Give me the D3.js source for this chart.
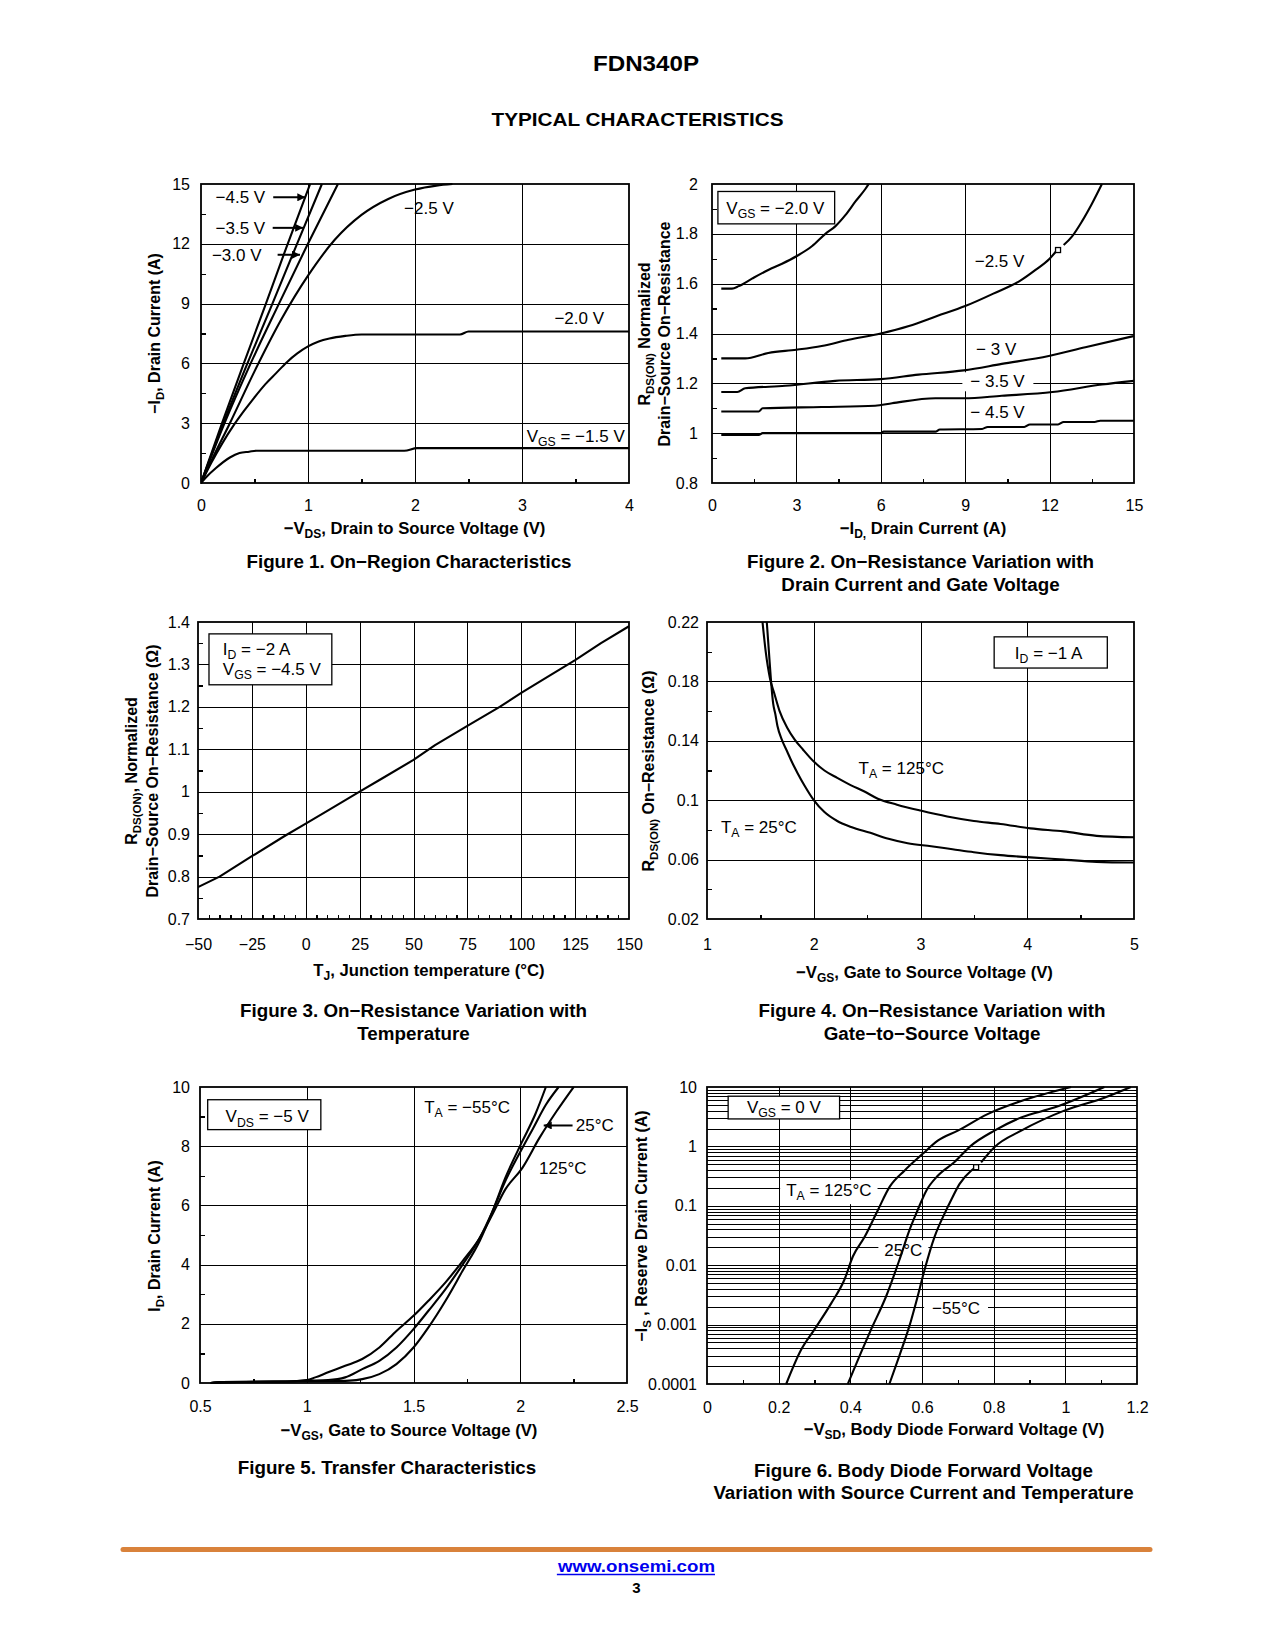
<!DOCTYPE html>
<html><head><meta charset="utf-8">
<script src="https://cdn.jsdelivr.net/npm/d3@7"></script>
<style>
html,body{margin:0;padding:0;background:#fff;}
svg{display:block;}
</style></head><body>
<svg id="page" width="1275" height="1650"></svg>
<script>
// ---------------- DATA ----------------
// Figure 1: -ID vs -VDS for several VGS
const fig1XTicks = [0,1,2,3,4];
const fig1YTicks = [0,3,6,9,12,15];
const fig1XMinor = [0.5,1.5,2.5,3.5];
const fig1YMinor = [1.5,4.5,7.5,10.5,13.5];
const fig1Vgs45 = [[0,0],[0.2,3.05],[0.4,6.0],[0.6,8.9],[0.8,11.85],[1.02,15]];
const fig1Vgs35 = [[0,0],[0.21,3],[0.43,5.95],[0.66,8.9],[0.89,11.9],[1.13,15]];
const fig1Vgs30 = [[0,0],[0.22,3],[0.46,5.95],[0.72,8.9],[0.99,11.9],[1.28,15]];
const fig1Vgs25 = [[0,0],[0.1,1.15],[0.27,3],[0.5,5.6],[0.75,8.2],[1.0,10.4],[1.25,12.2],[1.5,13.45],[1.75,14.25],[2.0,14.72],[2.2,14.92],[2.35,15]];
const fig1Vgs20 = [[0,0],[0.1,1.05],[0.2,2.0],[0.3,2.85],[0.4,3.6],[0.5,4.3],[0.6,4.95],[0.7,5.5],[0.8,6.05],[0.9,6.5],[1.0,6.85],[1.1,7.1],[1.2,7.25],[1.35,7.38],[1.5,7.45],[2.42,7.45],[2.5,7.6],[4,7.6]];
const fig1Vgs15 = [[0,0],[0.05,0.3],[0.14,0.75],[0.27,1.28],[0.36,1.5],[0.45,1.57],[0.52,1.62],[1.9,1.62],[2.02,1.75],[4,1.75]];

// Figure 2: normalized RDS(ON) vs -ID
const fig2XTicks = [0,3,6,9,12,15];
const fig2YTicks = [0.8,1,1.2,1.4,1.6,1.8,2];
const fig2XMinor = [1.5,4.5,7.5,10.5,13.5];
const fig2YMinor = [0.9,1.1,1.3,1.5,1.7,1.9];
const fig2Vgs20 = [[0.33,1.58],[0.71,1.58],[0.95,1.59],[1.42,1.62],[2.0,1.655],[2.49,1.68],[3.0,1.71],[3.55,1.75],[4.03,1.8],[4.38,1.83],[4.74,1.875],[5.1,1.93],[5.45,1.98],[5.57,2.0]];
const fig2Vgs25 = [[0.33,1.3],[1.18,1.3],[2.0,1.322],[3.0,1.335],[3.9,1.35],[4.86,1.375],[6.0,1.40],[7.0,1.43],[8.0,1.47],[9.0,1.51],[10.0,1.56],[11.0,1.615],[11.5,1.655],[12.0,1.70],[12.27,1.735],null,[12.5,1.755],[12.8,1.79],[13.15,1.85],[13.5,1.92],[13.86,2.0]];
const fig2Vgs30 = [[0.33,1.165],[0.9,1.165],[1.18,1.18],[2.6,1.19],[4.38,1.21],[6.0,1.217],[7.34,1.235],[8.95,1.252],[10.3,1.278],[11.97,1.31],[13.27,1.345],[15,1.39]];
const fig2Vgs35 = [[0.33,1.087],[1.66,1.087],[1.8,1.1],[3.9,1.105],[5.8,1.11],[6.4,1.12],[7.94,1.14],[8.95,1.14],[10.3,1.15],[12.1,1.165],[13.86,1.195],[15,1.21]];
const fig2Vgs45 = [[0.33,0.993],[1.66,0.993],[1.8,1.0],[6.0,1.0],[6.1,1.006],[7.94,1.006],[8.1,1.015],[9.6,1.017],[9.8,1.025],[11.1,1.025],[11.3,1.035],[12.3,1.035],[12.5,1.045],[13.6,1.045],[13.8,1.05],[15,1.05]];
const fig2Marker = [[12.3,1.735]];

// Figure 3: normalized RDS(ON) vs junction temperature
const fig3XTicks = [-50,-25,0,25,50,75,100,125,150];
const fig3YTicks = [0.7,0.8,0.9,1,1.1,1.2,1.3,1.4];
const fig3Temp = [-50,-40,-25,-10,0,10,25,35,50,60,75,90,100,112,125,137,150];
const fig3Rds  = [0.775,0.80,0.848,0.895,0.925,0.955,1.0,1.03,1.075,1.11,1.155,1.2,1.233,1.27,1.31,1.35,1.39];

// Figure 4: RDS(ON) vs -VGS
const fig4XTicks = [1,2,3,4,5];
const fig4YTicks = [0.02,0.06,0.1,0.14,0.18,0.22];
const fig4XMinor = [1.5,2.5,3.5,4.5];
const fig4YMinor = [0.04,0.08,0.12,0.16,0.2];
const fig4T125 = [[1.52,0.22],[1.55,0.2],[1.59,0.182],[1.63,0.172],[1.68,0.16],[1.75,0.149],[1.82,0.141],[1.9,0.134],[2.0,0.126],[2.1,0.12],[2.22,0.115],[2.35,0.11],[2.47,0.106],[2.6,0.101],[2.78,0.097],[3.0,0.093],[3.25,0.089],[3.5,0.086],[3.75,0.084],[4.03,0.081],[4.34,0.079],[4.65,0.076],[5.0,0.075]];
const fig4T25  = [[1.56,0.22],[1.58,0.2],[1.6,0.18],[1.62,0.165],[1.64,0.158],[1.66,0.15],[1.7,0.141],[1.75,0.133],[1.8,0.125],[1.85,0.118],[1.92,0.109],[2.0,0.1],[2.1,0.092],[2.22,0.086],[2.35,0.082],[2.53,0.078],[2.7,0.074],[2.88,0.071],[3.1,0.069],[3.3,0.067],[3.5,0.065],[3.75,0.063],[4.03,0.0615],[4.34,0.06],[4.65,0.0585],[5.0,0.058]];

// Figure 5: transfer characteristics
const fig5XTicks = [0.5,1,1.5,2,2.5];
const fig5YTicks = [0,2,4,6,8,10];
const fig5XMinor = [0.75,1.25,1.75,2.25];
const fig5YMinor = [1,3,5,7,9];
const fig5T125 = [[0.55,0],[0.6,0.03],[0.9,0.05],[1.0,0.1],[1.04,0.19],[1.1,0.36],[1.18,0.58],[1.26,0.81],[1.34,1.2],[1.42,1.76],[1.5,2.27],[1.57,2.78],[1.65,3.4],[1.73,4.12],[1.81,4.9],[1.87,5.7],[1.93,6.54],[2.01,7.27],[2.09,8.28],[2.17,9.18],[2.25,10]];
const fig5T25  = [[0.55,0],[0.6,0.03],[0.9,0.05],[1.0,0.08],[1.1,0.1],[1.18,0.19],[1.26,0.47],[1.34,0.75],[1.42,1.2],[1.5,1.82],[1.57,2.44],[1.65,3.17],[1.73,4.0],[1.81,4.9],[1.87,5.8],[1.93,6.82],[2.01,7.94],[2.06,8.6],[2.12,9.4],[2.18,10]];
const fig5Tm55 = [[0.55,0],[0.6,0.02],[0.9,0.05],[1.1,0.06],[1.2,0.08],[1.26,0.13],[1.34,0.3],[1.42,0.64],[1.5,1.2],[1.57,1.88],[1.65,2.78],[1.73,3.79],[1.81,4.8],[1.87,5.8],[1.93,6.93],[2.01,8.17],[2.07,9.07],[2.12,10]];

// Figure 6: body diode forward voltage (log current)
const fig6XTicks = [0,0.2,0.4,0.6,0.8,1,1.2];
const fig6YTicks = [0.0001,0.001,0.01,0.1,1,10];
const fig6XMinor = [0.1,0.3,0.5,0.7,0.9,1.1];
const fig6T125 = [[0.221,0.0001],[0.263,0.00038],[0.3,0.00083],[0.347,0.0023],[0.384,0.0058],[0.407,0.014],[0.44,0.030],[0.477,0.085],[0.51,0.21],[0.551,0.39],[0.602,0.75],[0.644,1.25],[0.7,1.84],[0.783,3.5],[0.877,5.8],[1.016,10]];
const fig6T25  = [[0.393,0.0001],[0.43,0.00034],[0.458,0.00083],[0.5,0.003],[0.537,0.0123],[0.565,0.039],[0.588,0.085],[0.612,0.18],[0.644,0.32],[0.69,0.54],[0.737,1.03],[0.802,1.84],[0.877,3.08],[0.969,4.5],[1.109,10]];
const fig6Tm55 = [[0.509,0.0001],[0.537,0.0003],[0.565,0.00095],[0.588,0.003],[0.607,0.0083],[0.635,0.030],[0.663,0.074],[0.681,0.124],[0.705,0.234],[0.737,0.39],[0.751,0.447],null,[0.765,0.54],[0.802,0.97],[0.877,1.84],[0.997,4.0],[1.109,6.6],[1.183,10]];
const fig6Marker = [[0.751,0.447]];

// ---------------- DRAWING ----------------
const FONT = '"Liberation Sans", Arial, Helvetica, sans-serif';
const TICK = 16, ANN = 17, XTITLE = 16.7, YTITLE = 16, CAP = 18.8;
const svg = d3.select('#page');
svg.append('rect').attr('width',1275).attr('height',1650).attr('fill','#fff');
const defs = svg.append('defs');
defs.append('marker').attr('id','arrow').attr('viewBox','0 0 10 10')
  .attr('refX',10).attr('refY',5).attr('markerUnits','userSpaceOnUse')
  .attr('markerWidth',11).attr('markerHeight',8).attr('orient','auto')
  .append('path').attr('d','M0,0 L10,5 L0,10 Z').attr('fill','#000');

function rich(t, str, size) {
  const parts = str.split(/(_\{[^}]*\})/);
  let sub = false;
  parts.forEach(p => {
    if (!p) return;
    if (p.startsWith('_{')) {
      t.append('tspan').attr('font-size', size*0.72).attr('dy', size*0.25).text(p.slice(2,-1));
      sub = true;
    } else {
      const ts = t.append('tspan').text(p);
      if (sub) { ts.attr('dy', -size*0.25); sub = false; }
    }
  });
}
function addText(parent, cx, cy, str, o = {}) {
  const size = o.size || 15;
  const t = parent.append('text')
    .attr('font-size', size).attr('font-family', FONT)
    .attr('font-weight', o.bold ? 'bold' : 'normal')
    .attr('text-anchor', o.anchor || 'middle')
    .attr('fill', o.fill || '#000')
    .style('white-space', 'pre');
  if (o.rotate) t.attr('transform', `translate(${cx + 0.35*size},${cy}) rotate(-90)`);
  else t.attr('x', cx).attr('y', cy + 0.35*size);
  rich(t, str, size);
  if (o.textLength) t.attr('textLength', o.textLength).attr('lengthAdjust', 'spacingAndGlyphs');
  return t;
}
function bgText(parent, cx, cy, str, o, padX, padY) {
  const t = addText(parent, cx, cy, str, o);
  const bb = t.node().getBBox();
  parent.insert('rect', () => t.node())
    .attr('x', bb.x - padX).attr('y', bb.y - padY)
    .attr('width', bb.width + 2*padX).attr('height', bb.height + 2*padY)
    .attr('fill', '#fff');
  return t;
}

let clipN = 0;
function makeChart(c) {
  const x = (c.xLog ? d3.scaleLog() : d3.scaleLinear()).domain(c.xDomain).range([c.L, c.R]);
  const y = (c.yLog ? d3.scaleLog() : d3.scaleLinear()).domain(c.yDomain).range([c.B, c.T]);
  const W = c.R - c.L, H = c.B - c.T;
  const g = svg.append('g');
  const styleAxis = s => { s.select('.domain').remove(); s.attr('font-family', FONT).attr('font-size', TICK);
    s.selectAll('line').attr('stroke', '#000'); };
  // gridlines
  g.append('g').attr('transform', `translate(0,${c.B})`)
    .call(d3.axisBottom(x).tickValues(c.xGrid).tickSize(-H).tickFormat('')).call(styleAxis)
    .selectAll('line').attr('stroke-width', 1).attr('shape-rendering', 'crispEdges');
  g.append('g').attr('transform', `translate(${c.L},0)`)
    .call(d3.axisLeft(y).tickValues(c.yGrid).tickSize(-W).tickFormat('')).call(styleAxis)
    .selectAll('line').attr('stroke-width', 1).attr('shape-rendering', 'crispEdges');
  // minor ticks
  if (c.xMinor) g.append('g').attr('transform', `translate(0,${c.B})`)
    .call(d3.axisBottom(x).tickValues(c.xMinor).tickSize(-4.5).tickFormat('')).call(styleAxis)
    .selectAll('line').attr('stroke-width', 1.4).attr('shape-rendering', 'crispEdges');
  if (c.yMinor) g.append('g').attr('transform', `translate(${c.L},0)`)
    .call(d3.axisLeft(y).tickValues(c.yMinor).tickSize(-4.5).tickFormat('')).call(styleAxis)
    .selectAll('line').attr('stroke-width', 1.4).attr('shape-rendering', 'crispEdges');
  // tick labels
  g.append('g').attr('transform', `translate(0,${c.B})`)
    .call(d3.axisBottom(x).tickValues(c.xTicks).tickSize(0).tickPadding(c.xPad).tickFormat(c.xFmt || (d => String(d).replace('-', '\u2212'))))
    .call(styleAxis);
  g.append('g').attr('transform', `translate(${c.L},0)`)
    .call(d3.axisLeft(y).tickValues(c.yTicks).tickSize(0).tickPadding(c.yPad).tickFormat(c.yFmt || (d => String(d))))
    .call(styleAxis);
  // border
  g.append('rect').attr('x', c.L).attr('y', c.T).attr('width', W).attr('height', H)
    .attr('fill', 'none').attr('stroke', '#000').attr('stroke-width', 1.8);
  const id = 'clip' + (clipN++);
  defs.append('clipPath').attr('id', id).append('rect')
    .attr('x', c.L).attr('y', c.T - 1).attr('width', W + 1).attr('height', H + 2);
  return { x, y, g, clip: `url(#${id})`, c };
}
function drawCurve(ch, data, smooth = true) {
  const line = d3.line().defined(d => d !== null)
    .x(d => ch.x(d[0])).y(d => ch.y(d[1]))
    .curve(smooth ? d3.curveMonotoneX : d3.curveLinear);
  ch.g.append('path').datum(data).attr('d', line).attr('clip-path', ch.clip)
    .attr('fill', 'none').attr('stroke', '#000').attr('stroke-width', 2.1)
    .attr('stroke-linejoin', 'round');
}
function drawBox(ch, x0, y0, x1, y1) {
  const xa = ch.x(x0), xb = ch.x(x1), ya = ch.y(y0), yb = ch.y(y1);
  ch.g.append('rect').attr('x', Math.min(xa, xb)).attr('y', Math.min(ya, yb))
    .attr('width', Math.abs(xb - xa)).attr('height', Math.abs(yb - ya))
    .attr('fill', '#fff').attr('stroke', '#000').attr('stroke-width', 1.3);
}
function drawSquare(ch, pts) {
  ch.g.selectAll(null).data(pts).enter().append('rect')
    .attr('x', d => ch.x(d[0]) - 2.5).attr('y', d => ch.y(d[1]) - 2.5)
    .attr('width', 5).attr('height', 5).attr('fill', '#fff').attr('stroke', '#000').attr('stroke-width', 1.3);
}

// ----- Header -----
addText(svg, 646, 63, 'FDN340P', { size: 22, bold: true, textLength: 106 });
addText(svg, 637.5, 120, 'TYPICAL CHARACTERISTICS', { size: 18, bold: true, textLength: 292 });

// ----- Figure 1 -----
{
  const ch = makeChart({ L: 201, R: 629, T: 184, B: 483, xDomain: [0, 4], yDomain: [0, 15],
    xTicks: fig1XTicks, yTicks: fig1YTicks, xGrid: [1, 2, 3], yGrid: [3, 6, 9, 12],
    xMinor: fig1XMinor, yMinor: fig1YMinor, xPad: 17, yPad: 11 });
  [fig1Vgs45, fig1Vgs35, fig1Vgs30, fig1Vgs25, fig1Vgs20, fig1Vgs15].forEach(d => drawCurve(ch, d));
  const arrows = [['\u22124.5 V', 0.60, 14.33, 0.675, 0.975], ['\u22123.5 V', 0.60, 12.8, 0.67, 0.955], ['\u22123.0 V', 0.566, 11.45, 0.716, 0.925]];
  arrows.forEach(a => {
    addText(ch.g, ch.x(a[1]), ch.y(a[2]), a[0], { size: ANN, anchor: 'end' });
    ch.g.append('line').attr('x1', ch.x(a[3])).attr('x2', ch.x(a[4])).attr('y1', ch.y(a[2])).attr('y2', ch.y(a[2]))
      .attr('stroke', '#000').attr('stroke-width', 2).attr('marker-end', 'url(#arrow)');
  });
  addText(ch.g, ch.x(2.13), ch.y(13.78), '\u22122.5 V', { size: ANN });
  addText(ch.g, ch.x(3.535), ch.y(8.3), '\u22122.0 V', { size: ANN });
  addText(ch.g, ch.x(3.96), ch.y(2.37), 'V_{GS} = \u22121.5 V', { size: ANN, anchor: 'end' });
  addText(svg, 154, 333.5, '\u2212I_{D}, Drain Current (A)', { size: YTITLE, bold: true, rotate: true });
  addText(svg, 414.5, 528, '\u2212V_{DS}, Drain to Source Voltage (V)', { size: XTITLE, bold: true });
  addText(svg, 409, 561, 'Figure 1. On\u2212Region Characteristics', { size: CAP, bold: true });
}

// ----- Figure 2 -----
{
  const ch = makeChart({ L: 712, R: 1134, T: 184, B: 483, xDomain: [0, 15], yDomain: [0.8, 2],
    xTicks: fig2XTicks, yTicks: fig2YTicks, xGrid: [3, 6, 9, 12], yGrid: [1, 1.2, 1.4, 1.6, 1.8],
    xMinor: fig2XMinor, yMinor: fig2YMinor, xPad: 17, yPad: 14 });
  drawBox(ch, 0.21, 1.97, 4.36, 1.84);
  addText(ch.g, ch.x(2.25), ch.y(1.903), 'V_{GS} = \u22122.0 V', { size: ANN });
  addText(ch.g, ch.x(10.22), ch.y(1.69), '\u22122.5 V', { size: ANN });
  addText(ch.g, ch.x(10.1), ch.y(1.339), '\u2212 3 V', { size: ANN });
  bgText(ch.g, ch.x(10.15), ch.y(1.208), '\u2212 3.5 V', { size: ANN }, 8, 0);
  addText(ch.g, ch.x(10.15), ch.y(1.085), '\u2212 4.5 V', { size: ANN });
  [fig2Vgs20, fig2Vgs25, fig2Vgs30, fig2Vgs35, fig2Vgs45].forEach(d => drawCurve(ch, d));
  drawSquare(ch, fig2Marker);
  addText(svg, 644, 334, 'R_{DS(ON)} Normalized', { size: YTITLE, bold: true, rotate: true });
  addText(svg, 664, 334, 'Drain\u2212Source On\u2212Resistance', { size: YTITLE, bold: true, rotate: true });
  addText(svg, 923, 528, '\u2212I_{D,} Drain Current (A)', { size: XTITLE, bold: true });
  addText(svg, 920.5, 561, 'Figure 2. On\u2212Resistance Variation with', { size: CAP, bold: true });
  addText(svg, 920.5, 584, 'Drain Current and Gate Voltage', { size: CAP, bold: true });
}

// ----- Figure 3 -----
{
  const xMinor = d3.range(-50, 151, 5).filter(v => v % 25 !== 0);
  const yMinor = [0.75, 0.85, 0.95, 1.05, 1.15, 1.25, 1.35];
  const ch = makeChart({ L: 198, R: 629, T: 622, B: 919, xDomain: [-50, 150], yDomain: [0.7, 1.4],
    xTicks: fig3XTicks, yTicks: fig3YTicks, xGrid: [-25, 0, 25, 50, 75, 100, 125], yGrid: [0.8, 0.9, 1, 1.1, 1.2, 1.3],
    xMinor, yMinor, xPad: 20, yPad: 8 });
  drawBox(ch, -44.9, 1.372, 12.1, 1.252);
  addText(ch.g, ch.x(-38.5), ch.y(1.336), 'I_{D} = \u22122 A', { size: ANN, anchor: 'start' });
  addText(ch.g, ch.x(-38.5), ch.y(1.289), 'V_{GS} = \u22124.5 V', { size: ANN, anchor: 'start' });
  drawCurve(ch, fig3Temp.map((t, i) => [t, fig3Rds[i]]), false);
  addText(svg, 131.5, 771, 'R_{DS(ON)}, Normalized', { size: YTITLE, bold: true, rotate: true });
  addText(svg, 152.5, 771, 'Drain\u2212Source On\u2212Resistance (\u03A9)', { size: YTITLE, bold: true, rotate: true });
  addText(svg, 429, 970, 'T_{J}, Junction temperature (\u00B0C)', { size: XTITLE, bold: true });
  addText(svg, 413.5, 1010, 'Figure 3. On\u2212Resistance Variation with', { size: CAP, bold: true });
  addText(svg, 413.5, 1033, 'Temperature', { size: CAP, bold: true });
}

// ----- Figure 4 -----
{
  const ch = makeChart({ L: 707, R: 1134, T: 622, B: 919, xDomain: [1, 5], yDomain: [0.02, 0.22],
    xTicks: fig4XTicks, yTicks: fig4YTicks, xGrid: [2, 3, 4], yGrid: [0.06, 0.1, 0.14, 0.18],
    xMinor: fig4XMinor, yMinor: fig4YMinor, xPad: 20, yPad: 8 });
  drawBox(ch, 3.69, 0.21, 4.75, 0.189);
  addText(ch.g, ch.x(4.2), ch.y(0.1994), 'I_{D} = \u22121 A', { size: ANN });
  addText(ch.g, ch.x(2.42), ch.y(0.1217), 'T_{A} = 125\u00B0C', { size: ANN, anchor: 'start' });
  addText(ch.g, ch.x(1.13), ch.y(0.0818), 'T_{A} = 25\u00B0C', { size: ANN, anchor: 'start' });
  [fig4T125, fig4T25].forEach(d => drawCurve(ch, d));
  addText(svg, 648, 771, 'R_{DS(ON)} On\u2212Resistance (\u03A9)', { size: YTITLE, bold: true, rotate: true });
  addText(svg, 924.5, 972, '\u2212V_{GS}, Gate to Source Voltage (V)', { size: XTITLE, bold: true });
  addText(svg, 932, 1010, 'Figure 4. On\u2212Resistance Variation with', { size: CAP, bold: true });
  addText(svg, 932, 1033, 'Gate\u2212to\u2212Source Voltage', { size: CAP, bold: true });
}

// ----- Figure 5 -----
{
  const ch = makeChart({ L: 200, R: 627, T: 1087, B: 1383, xDomain: [0.5, 2.5], yDomain: [0, 10],
    xTicks: fig5XTicks, yTicks: fig5YTicks, xGrid: [1, 1.5, 2], yGrid: [2, 4, 6, 8],
    xMinor: fig5XMinor, yMinor: fig5YMinor, xPad: 18, yPad: 10 });
  drawBox(ch, 0.536, 9.57, 1.066, 8.56);
  addText(ch.g, ch.x(0.62), ch.y(9.01), 'V_{DS} = \u22125 V', { size: ANN, anchor: 'start' });
  addText(ch.g, ch.x(1.55), ch.y(9.33), 'T_{A} = \u221255\u00B0C', { size: ANN, anchor: 'start' });
  addText(ch.g, ch.x(2.26), ch.y(8.73), '25\u00B0C', { size: ANN, anchor: 'start' });
  addText(ch.g, ch.x(2.088), ch.y(7.25), '125\u00B0C', { size: ANN, anchor: 'start' });
  ch.g.append('line').attr('x1', ch.x(2.245)).attr('x2', ch.x(2.11)).attr('y1', ch.y(8.7)).attr('y2', ch.y(8.7))
    .attr('stroke', '#000').attr('stroke-width', 2).attr('marker-end', 'url(#arrow)');
  [fig5T125, fig5T25, fig5Tm55].forEach(d => drawCurve(ch, d));
  addText(svg, 154, 1236, 'I_{D}, Drain Current (A)', { size: YTITLE, bold: true, rotate: true });
  addText(svg, 409, 1430, '\u2212V_{GS}, Gate to Source Voltage (V)', { size: XTITLE, bold: true });
  addText(svg, 387, 1467.5, 'Figure 5. Transfer Characteristics', { size: CAP, bold: true });
}

// ----- Figure 6 -----
{
  const yGrid = [];
  fig6YTicks.slice(0, -1).forEach(d => { for (let k = 1; k <= 9; k++) { const v = k * d; if (v > fig6YTicks[0]) yGrid.push(v); } });
  const ch = makeChart({ L: 707, R: 1137, T: 1087, B: 1384, xDomain: [0, 1.2], yDomain: [0.0001, 10], yLog: true,
    xTicks: fig6XTicks, yTicks: fig6YTicks, xGrid: [0.2, 0.4, 0.6, 0.8, 1.0], yGrid,
    xMinor: fig6XMinor, xPad: 18, yPad: 10 });
  drawBox(ch, 0.059, 7.0, 0.37, 2.9);
  addText(ch.g, ch.x(0.2145), ch.y(4.6), 'V_{GS} = 0 V', { size: ANN });
  bgText(ch.g, ch.x(0.34), ch.y(0.185), 'T_{A} = 125\u00B0C', { size: ANN }, 6, 1);
  bgText(ch.g, ch.x(0.548), ch.y(0.0179), '25\u00B0C', { size: ANN }, 6, 1);
  bgText(ch.g, ch.x(0.695), ch.y(0.0019), '\u221255\u00B0C', { size: ANN }, 8, 1);
  [fig6T125, fig6T25, fig6Tm55].forEach(d => drawCurve(ch, d));
  drawSquare(ch, fig6Marker);
  addText(svg, 641, 1226, '\u2212I_{S} , Reserve Drain Current (A)', { size: YTITLE, bold: true, rotate: true });
  addText(svg, 954, 1429, '\u2212V_{SD}, Body Diode Forward Voltage (V)', { size: XTITLE, bold: true });
  addText(svg, 923.5, 1470, 'Figure 6. Body Diode Forward Voltage', { size: CAP, bold: true });
  addText(svg, 923.5, 1492, 'Variation with Source Current and Temperature', { size: CAP, bold: true });
}

// ----- Footer -----
svg.append('line').attr('x1', 123).attr('x2', 1150).attr('y1', 1549.5).attr('y2', 1549.5)
  .attr('stroke', '#d9823b').attr('stroke-width', 5).attr('stroke-linecap', 'round');
{
  const t = addText(svg, 636.5, 1566, 'www.onsemi.com', { size: 16.5, bold: true, fill: '#0000ee', textLength: 157 });
  const bb = t.node().getBBox();
  svg.append('line').attr('x1', bb.x).attr('x2', bb.x + bb.width).attr('y1', 1574.5).attr('y2', 1574.5)
    .attr('stroke', '#0000ee').attr('stroke-width', 1.3);
}
addText(svg, 636.5, 1587.5, '3', { size: 15, bold: true });
</script>
</body></html>
